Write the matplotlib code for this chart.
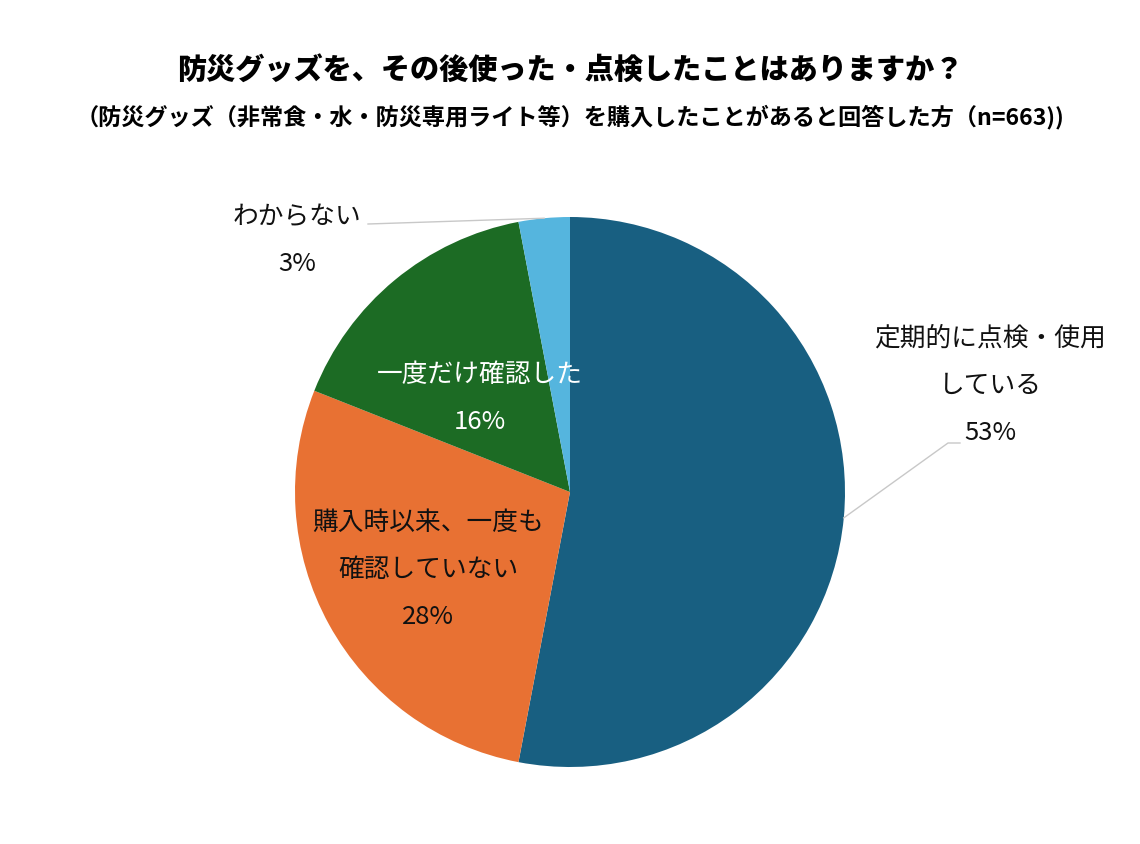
import matplotlib.pyplot as plt
import numpy as np

plt.rcParams['font.family'] = ['Noto Sans CJK JP', 'DejaVu Sans']

title = '防災グッズを、その後使った・点検したことはありますか？'
subtitle = '（防災グッズ（非常食・水・防災専用ライト等）を購入したことがあると回答した方（n=663))'

labels = ['定期的に点検・使用\nしている', '購入時以来、一度も\n確認していない', '一度だけ確認した', 'わからない']
values = [53, 28, 16, 3]
colors = ['#185f81', '#e87133', '#1c6b24', '#55b5de']

W, H = 1140, 844
cx, cy, R = 570, 492, 275


def px(x, y):
    # pixel position -> data coords of the pie axes
    return (x - cx) / R, (cy - y) / R


fig = plt.figure(figsize=(W / 100, H / 100), dpi=100)
fig.text(0.5, 1 - 70 / H, title, ha='center', va='center', fontsize=21, fontweight='heavy')
fig.text(0.5, 1 - 117 / H, subtitle, ha='center', va='center', fontsize=16.7, fontweight='bold')

ax = fig.add_axes([0, 0, 1, 1])

wedges, _ = ax.pie(values, colors=colors, startangle=90, counterclock=False,
                   radius=1, wedgeprops=dict(linewidth=0))

ax.set_xlim(-cx / R, (W - cx) / R)
ax.set_ylim(-(H - cy) / R, cy / R)
ax.set_aspect('equal')
ax.axis('off')

fs = 18.5
ls = 2.05
line_col = '#c8c8c8'
txt_col = '#111111'

# mid angles of wedges
mids = [np.deg2rad((w.theta1 + w.theta2) / 2) for w in wedges]

# 定期的に点検・使用している (outside, right)
ex, ey = np.cos(mids[0]), np.sin(mids[0])
kx, ky = px(948, 443)
ex2, _ = px(960, 443)
ax.plot([ex, kx, ex2], [ey, ky, ky], color=line_col, lw=1)
tx, ty = px(990, 386)
ax.text(tx, ty, labels[0] + '\n%d%%' % values[0], ha='center', va='center',
        fontsize=fs, linespacing=ls, color=txt_col)

# 購入時以来、一度も確認していない (inside)
tx, ty = px(428, 570)
ax.text(tx, ty, labels[1] + '\n%d%%' % values[1], ha='center', va='center',
        fontsize=fs, linespacing=ls, color=txt_col)

# 一度だけ確認した (inside, white)
tx, ty = px(480, 398)
ax.text(tx, ty, labels[2] + '\n%d%%' % values[2], ha='center', va='center',
        fontsize=fs, linespacing=ls, color='white')

# わからない (outside, upper left)
ex, ey = np.cos(mids[3]), np.sin(mids[3])
kx, ky = px(368, 224)
ax.plot([ex, kx], [ey, ky], color=line_col, lw=1)
tx, ty = px(297, 240)
ax.text(tx, ty, labels[3] + '\n%d%%' % values[3], ha='center', va='center',
        fontsize=fs, linespacing=ls, color=txt_col)

fig.savefig('out.png', dpi=100)
